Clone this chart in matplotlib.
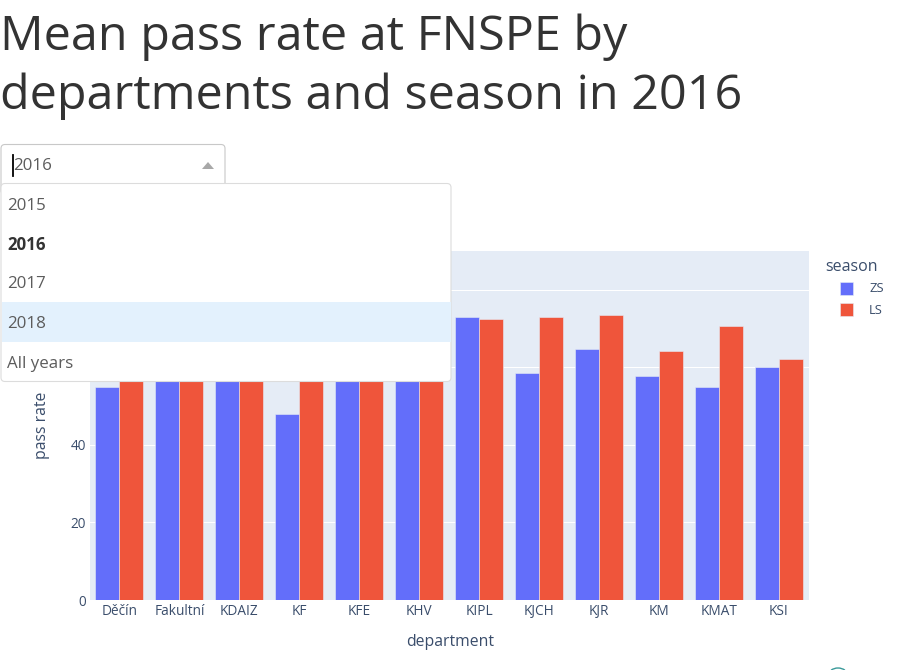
import matplotlib
matplotlib.use("Agg")
import matplotlib.pyplot as plt
import numpy as np
from matplotlib.patches import FancyBboxPatch, Rectangle, Polygon, Arc

plt.rcParams['font.family'] = ['Open Sans', 'DejaVu Sans']

departments = ["Děčín", "Fakultní", "KDAIZ", "KF", "KFE", "KHV", "KIPL", "KJCH", "KJR", "KM", "KMAT", "KSI"]
# the values for the first six departments are partly hidden by the dropdown, so those are estimates
zs = [55.0, 63.0, 65.0, 47.9, 66.0, 62.0, 72.9, 58.6, 64.7, 57.8, 55.0, 60.2]
ls = [62.0, 68.0, 64.0, 70.0, 67.0, 66.0, 72.4, 73.0, 73.5, 64.3, 70.6, 62.2]
y_ticks = [0, 20, 40, 60, 80]
years = ["2015", "2016", "2017", "2018", "All years"]
year_y = [205.5, 245, 284.5, 323.5, 363.5]

W, H = 898, 670
text_col = "#3a4d6b"
grey_text = "#5c5c5c"

fig = plt.figure(figsize=(W / 100, H / 100), dpi=100)
ax = fig.add_axes([89.5 / W, 1 - 600 / H, (808.5 - 89.5) / W, (600 - 251) / H])
ax.set_facecolor("#e5ecf6")

x = np.arange(len(departments))
ax.bar(x - 0.2, zs, width=0.4, color="#636efa", edgecolor="#e5ecf6", linewidth=0.4, zorder=3)
ax.bar(x + 0.2, ls, width=0.4, color="#ef553b", edgecolor="#e5ecf6", linewidth=0.4, zorder=3)

ax.set_xlim(-0.5, 11.5)
ax.set_ylim(0, 90.06)
ax.set_xticks(x)
ax.set_xticklabels(departments, fontsize=9.8, color=text_col, va="baseline")
ax.set_yticks(y_ticks)
ax.set_yticklabels([str(t) for t in y_ticks], fontsize=9.8, color=text_col)
ax.tick_params(axis="x", length=0, pad=10.8)
ax.tick_params(axis="y", length=0, pad=2.5)
ax.grid(axis="y", color="white", linewidth=0.75, zorder=1)
ax.set_axisbelow(True)
for s in ax.spines.values():
    s.set_visible(False)

# overlay in pixel coordinates for the dropdown, title and legend
ov = fig.add_axes([0, 0, 1, 1], zorder=5)
ov.set_xlim(0, W)
ov.set_ylim(H, 0)
ov.axis("off")
ov.patch.set_alpha(0)

ov.text(450, 642, "department", fontsize=11.3, color=text_col, ha="center", va="center")
ov.text(42, 425, "pass rate", fontsize=11.3, color=text_col, ha="center", va="center", rotation=90)

ov.text(0, 50, "Mean pass rate at FNSPE by", fontsize=34.9, color="#333333", ha="left", va="baseline")
ov.text(0, 109.5, "departments and season in 2016", fontsize=34.9, color="#333333", ha="left", va="baseline")

# select box
ov.add_patch(FancyBboxPatch((1, 144.5), 224, 50, boxstyle="round,pad=0,rounding_size=4",
                            facecolor="white", edgecolor="#c8c8c8", linewidth=0.8, zorder=2))
ov.text(13, 166, "2016", fontsize=12.2, color=grey_text, ha="left", va="center", zorder=3)
ov.plot([13, 13], [155, 176], color="black", linewidth=1.3, zorder=4)
ov.add_patch(Polygon([[202, 169], [214, 169], [208, 162]], closed=True, facecolor="#a8a8a8", edgecolor="none", zorder=3))

# open menu
ov.add_patch(FancyBboxPatch((1, 183.5), 450, 198, boxstyle="round,pad=0,rounding_size=4",
                            facecolor="white", edgecolor="#dcdcdc", linewidth=0.8, zorder=4))
ov.add_patch(Rectangle((1.5, 302), 449, 40, facecolor="#e3f1fd", edgecolor="none", zorder=5))
for yr, yy in zip(years, year_y):
    ov.text(7, yy, yr, fontsize=12.2, color="#333333" if yr == "2016" else grey_text,
            fontweight="bold" if yr == "2016" else "normal", ha="left", va="center", zorder=6)

# legend
ov.text(825, 267, "season", fontsize=11.5, color=text_col, ha="left", va="center")
ov.add_patch(Rectangle((840, 281.5), 13, 13, facecolor="#636efa", edgecolor="#e5ecf6", linewidth=0.4))
ov.add_patch(Rectangle((840, 303), 13, 13, facecolor="#ef553b", edgecolor="#e5ecf6", linewidth=0.4))
ov.text(869, 288.5, "ZS", fontsize=9.4, color=text_col, ha="left", va="center")
ov.text(869, 310.5, "LS", fontsize=9.4, color=text_col, ha="left", va="center")

# bit of a logo cut off at the bottom edge
ov.add_patch(Arc((838, 676), 20, 16, theta1=220, theta2=320, color="#3a9a9a", linewidth=1))

fig.savefig("out.png", dpi=100, facecolor="white")
